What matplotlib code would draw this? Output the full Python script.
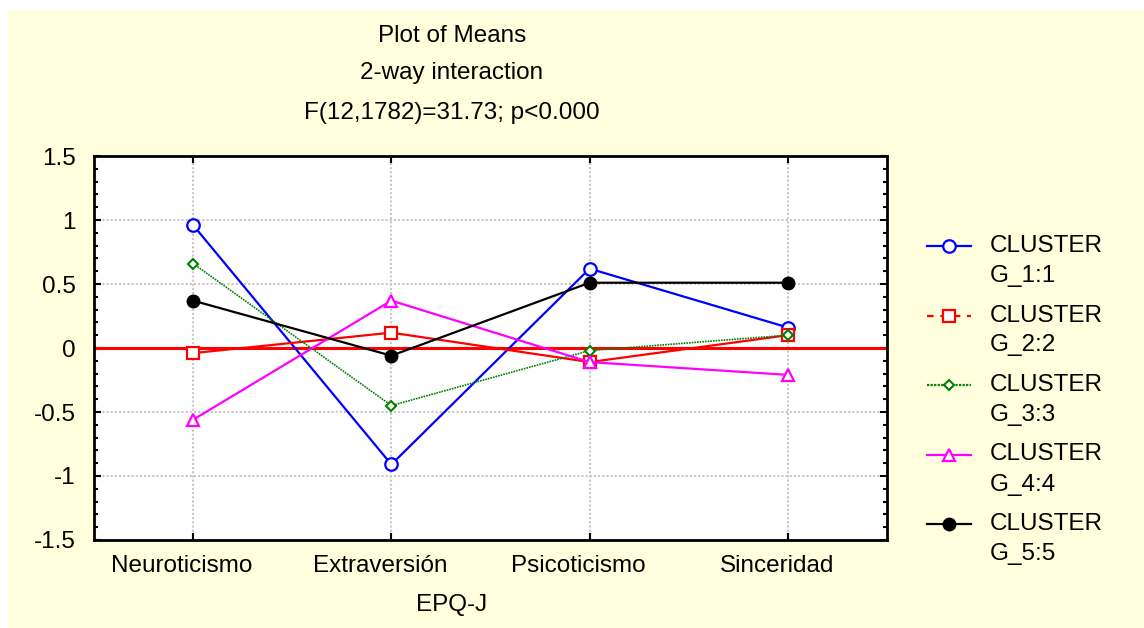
import numpy as np
import matplotlib.pyplot as plt
from matplotlib.lines import Line2D
from matplotlib.patches import Rectangle
from matplotlib.ticker import MultipleLocator
from matplotlib.transforms import ScaledTranslation

plt.rcParams['font.family'] = ['Liberation Sans', 'DejaVu Sans']

# datos
factores = ['Neuroticismo', 'Extraversión', 'Psicoticismo', 'Sinceridad']
g1 = [0.96, -0.91, 0.62, 0.16]
g2 = [-0.04, 0.12, -0.11, 0.10]
g3 = [0.66, -0.45, -0.02, 0.10]
g4 = [-0.56, 0.37, -0.11, -0.21]
g5 = [0.37, -0.06, 0.51, 0.51]
etiquetas = ['CLUSTER\nG_1:1', 'CLUSTER\nG_2:2', 'CLUSTER\nG_3:3',
             'CLUSTER\nG_4:4', 'CLUSTER\nG_5:5']

W, H = 1144, 628
fig = plt.figure(figsize=(W / 100, H / 100), dpi=100, facecolor='white')
fig.patches.append(Rectangle((8 / W, 0), 1, 1 - 10 / H, transform=fig.transFigure,
                             facecolor='#ffffde', edgecolor='none', zorder=-10))
ax = fig.add_axes([94 / W, 1 - 540 / H, 793 / W, 384 / H])
ax.set_facecolor('white')

x = np.arange(len(factores))
fs = 17.5

estilos = [
    dict(color='#0000ff', lw=1.6, marker='o', ms=9, mfc='white', mew=1.6),
    dict(color='#ff0000', lw=1.6, marker='s', ms=8.5, mfc='white', mew=1.6),
    dict(color='#008000', lw=1.2, ls=(0, (1, 0.6)), marker='D', ms=5, mfc='white', mew=1.5),
    dict(color='#ff00ff', lw=1.6, marker='^', ms=8, mfc='white', mew=1.6),
    dict(color='black', lw=1.6, marker='o', ms=9, mfc='black'),
]

ax.axhline(0, color='#ff0000', lw=2.2, zorder=2.5)
for serie, st in zip([g1, g2, g3, g4, g5], estilos):
    ax.plot(x, serie, zorder=3, **st)

ax.set_xlim(-0.5, 3.5)
ax.set_ylim(-1.5, 1.5)
ax.set_xticks(x)
ax.set_xticklabels(factores, fontsize=fs)
ax.set_yticks(np.arange(-1.5, 1.51, 0.5))
ax.set_yticklabels(['-1.5', '-1', '-0.5', '0', '0.5', '1', '1.5'], fontsize=fs)
ax.yaxis.set_minor_locator(MultipleLocator(0.1))
ax.tick_params(axis='both', which='major', direction='in', length=5, width=1.5,
               top=True, right=True, pad=11)
ax.tick_params(axis='y', which='minor', direction='in', length=3, width=1.5, right=True)
ax.tick_params(axis='y', which='major', pad=13)
# las etiquetas del eje x quedan algo a la izquierda de su marca
desplaza = ScaledTranslation(-11 / 100, 0, fig.dpi_scale_trans)
for lab in ax.get_xticklabels():
    lab.set_transform(lab.get_transform() + desplaza)
ax.grid(True, color='#c8c8c8', lw=1.5, ls=(0, (1, 1)), zorder=0)
ax.set_axisbelow(True)
for s in ax.spines.values():
    s.set_linewidth(2)

ax.set_xlabel('EPQ-J', fontsize=fs)
ax.xaxis.set_label_coords(452 / W, 1 - 605 / H, transform=fig.transFigure)
ax.xaxis.label.set_va('center')

fig.text(452 / W, 1 - 36 / H, 'Plot of Means', ha='center', va='center', fontsize=fs)
fig.text(452 / W, 1 - 73 / H, '2-way interaction', ha='center', va='center', fontsize=fs)
fig.text(452 / W, 1 - 113 / H, 'F(12,1782)=31.73; p<0.000', ha='center', va='center', fontsize=fs)

# leyenda dibujada a mano: la línea va a la altura de la primera línea del texto
ls_leyenda = [None, (0, (3, 3)), (0, (1, 0.6)), None, None]
for i, (st, etq) in enumerate(zip(estilos, etiquetas)):
    y = 1 - (246 + 69.5 * i) / H
    st = dict(st)
    st['lw'] = 1.6
    if ls_leyenda[i] is not None:
        st['ls'] = ls_leyenda[i]
    fig.add_artist(Line2D([927 / W, 971 / W], [y, y], transform=fig.transFigure, **st, markevery=[]))
    fig.add_artist(Line2D([949 / W], [y], transform=fig.transFigure, ls='none',
                          marker=st['marker'], ms=st['ms'], mfc=st['mfc'], mec=st['color'],
                          mew=st.get('mew', 1)))
    lineas = etq.split('\n')
    fig.text(990 / W, y, lineas[0], ha='left', va='center', fontsize=fs)
    fig.text(990 / W, y - 30 / H, lineas[1], ha='left', va='center', fontsize=fs)

fig.savefig('out.png', dpi=100)
